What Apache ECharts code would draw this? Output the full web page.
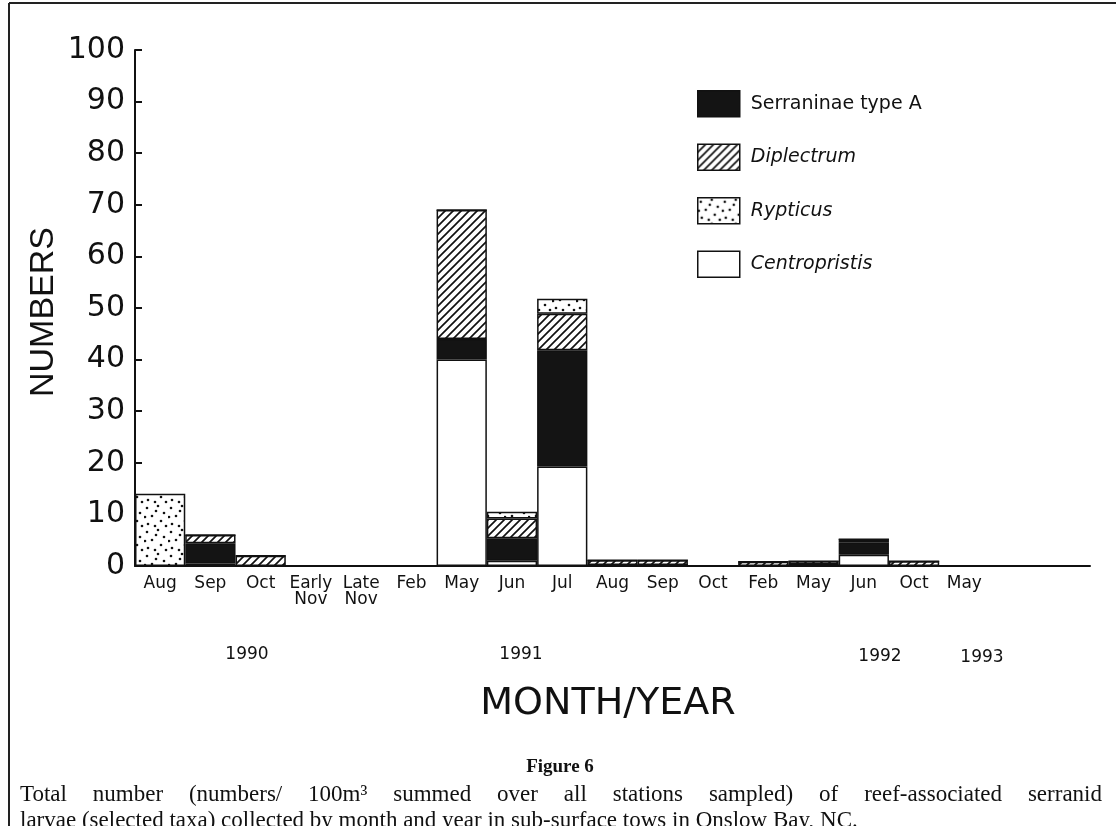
<!DOCTYPE html>
<html>
<head>
<meta charset="utf-8">
<script src="https://cdn.jsdelivr.net/npm/echarts@6/dist/echarts.min.js"></script>
<style>
  html, body { margin: 0; padding: 0; background: #fff; }
  #chart { width: 1120px; height: 826px; }
</style>
</head>
<body>
<div id="chart"></div>
<script>
// 月份类别（最后两个为空位）
var months = ['Aug', 'Sep', 'Oct', 'Early\nNov', 'Late\nNov', 'Feb', 'May', 'Jun', 'Jul',
              'Aug', 'Sep', 'Oct', 'Feb', 'May', 'Jun', 'Oct', 'May', '', ''];
var yearLabels = ['1990', '1991', '1992', '1993'];
var yTicks = [0, 10, 20, 30, 40, 50, 60, 70, 80, 90, 100];

// 各类群数值 (numbers / 100m3)
var centropristis = [0, 0.5, 0, 0, 0, 0, 40, 1, 19.3, 0.2, 0.2, 0, 0, 0.3, 2.2, 0, 0, 0, 0];
var serraninae    = [0, 3.9, 0, 0, 0, 0, 4, 4.4, 22.5, 0, 0, 0, 0, 0, 2.4, 0, 0, 0, 0];
var diplectrum    = [0, 1.6, 2, 0, 0, 0, 25, 3.8, 7.1, 0.9, 0.9, 0, 0.8, 0.6, 0.6, 0.9, 0, 0, 0];
var rypticus      = [14, 0, 0, 0, 0, 0, 0, 1.3, 2.9, 0, 0, 0, 0, 0, 0, 0, 0, 0, 0];

var captionLines = [
    'Total number (numbers/ 100m\u00b3 summed over all stations sampled) of reef-associated serranid',
    'larvae (selected taxa) collected by month and year in sub-surface tows in Onslow Bay, NC.'
];

// 斜线填充
function hatchPattern() {
    var s = 8;
    var c = document.createElement('canvas');
    c.width = s; c.height = s;
    var ctx = c.getContext('2d');
    ctx.fillStyle = '#fff';
    ctx.fillRect(0, 0, s, s);
    ctx.strokeStyle = '#111';
    ctx.lineWidth = 1.7;
    ctx.beginPath();
    ctx.moveTo(0, s); ctx.lineTo(s, 0);
    ctx.moveTo(-2, 2); ctx.lineTo(2, -2);
    ctx.moveTo(s - 2, s + 2); ctx.lineTo(s + 2, s - 2);
    ctx.stroke();
    return { image: c, repeat: 'repeat' };
}

// 点状填充
function dotPattern() {
    var s = 24;
    var c = document.createElement('canvas');
    c.width = s; c.height = s;
    var ctx = c.getContext('2d');
    ctx.fillStyle = '#fff';
    ctx.fillRect(0, 0, s, s);
    ctx.fillStyle = '#111';
    var pts = [[3, 4], [14, 2], [20, 9], [8, 12], [17, 17], [4, 20], [11, 22], [22, 22], [1, 13], [12, 7]];
    pts.forEach(function (p) {
        ctx.beginPath();
        ctx.arc(p[0], p[1], 1.3, 0, Math.PI * 2);
        ctx.fill();
    });
    return { image: c, repeat: 'repeat' };
}

// 两端对齐的图注（逐词排布）
var capFont = '23px Liberation Serif, serif';
function captionGraphics(x0, x1, ys) {
    var ctx = document.createElement('canvas').getContext('2d');
    ctx.font = capFont;
    var out = [];
    captionLines.forEach(function (line, li) {
        var words = line.split(' ');
        var widths = words.map(function (w) { return ctx.measureText(w).width; });
        var total = widths.reduce(function (a, b) { return a + b; }, 0);
        var gap = ctx.measureText(' ').width;
        if (li === 0) gap = (x1 - x0 - total) / (words.length - 1);
        var x = x0;
        words.forEach(function (w, i) {
            out.push({
                type: 'text', x: x, y: ys[li],
                style: { text: w, font: capFont, fill: '#111', textVerticalAlign: 'middle' }
            });
            x += widths[i] + gap;
        });
    });
    return out;
}

var chart = echarts.init(document.getElementById('chart'));

function makeSeries(name, data, color) {
    return {
        type: 'bar',
        name: name,
        stack: 'total',
        barCategoryGap: '0%',
        data: data,
        itemStyle: { color: color, borderColor: '#111', borderWidth: 1.5 }
    };
}

var font = 'DejaVu Sans, sans-serif';
var titleFont = 'Liberation Sans, Arial, sans-serif';

var option = {
    backgroundColor: '#fff',
    animation: false,
    grid: { left: 135, right: 30, top: 50, bottom: 260 },
    legend: {
        orient: 'vertical',
        left: 692,
        top: 85,
        icon: 'rect',
        itemWidth: 42,
        itemHeight: 26,
        itemGap: 26,
        itemStyle: { borderColor: '#111', borderWidth: 1.5 },
        textStyle: { fontFamily: font, fontSize: 19, color: '#111', padding: [0, 0, 0, 6] },
        data: [
            { name: 'Serraninae type A' },
            { name: 'Diplectrum', textStyle: { fontStyle: 'italic' } },
            { name: 'Rypticus', textStyle: { fontStyle: 'italic' } },
            { name: 'Centropristis', textStyle: { fontStyle: 'italic' } }
        ]
    },
    xAxis: {
        type: 'category',
        data: months,
        boundaryGap: true,
        axisLine: { lineStyle: { color: '#111', width: 2 } },
        axisTick: { show: false },
        axisLabel: {
            interval: 0,
            fontFamily: font,
            fontSize: 17,
            color: '#111',
            lineHeight: 16,
            margin: 10
        }
    },
    yAxis: {
        type: 'value',
        min: 0,
        max: 100,
        interval: 10,
        splitLine: { show: false },
        axisLine: { show: true, lineStyle: { color: '#111', width: 2 } },
        axisTick: { show: true, inside: true, length: 7, lineStyle: { color: '#111', width: 2 } },
        axisLabel: {
            fontFamily: font,
            fontSize: 30,
            color: '#111',
            margin: 10,
            formatter: function (v) { return yTicks.indexOf(v) >= 0 ? String(v) : ''; }
        }
    },
    series: [
        makeSeries('Centropristis', centropristis, '#fff'),
        makeSeries('Serraninae type A', serraninae, '#141414'),
        makeSeries('Diplectrum', diplectrum, hatchPattern()),
        makeSeries('Rypticus', rypticus, dotPattern())
    ],
    graphic: [
        // 外框
        { type: 'line', shape: { x1: 9, y1: 3, x2: 1116, y2: 3 }, style: { stroke: '#222', lineWidth: 2 } },
        { type: 'line', shape: { x1: 9, y1: 3, x2: 9, y2: 826 }, style: { stroke: '#222', lineWidth: 2 } },
        // 纵轴标题
        {
            type: 'text', x: 44, y: 312, rotation: Math.PI / 2,
            style: { text: 'NUMBERS', font: '34px ' + titleFont, fill: '#111', textAlign: 'center', textVerticalAlign: 'middle' }
        },
        // 年份
        { type: 'text', x: 247, y: 655, style: { text: yearLabels[0], font: '17px ' + font, fill: '#111', textAlign: 'center', textVerticalAlign: 'middle' } },
        { type: 'text', x: 521, y: 655, style: { text: yearLabels[1], font: '17px ' + font, fill: '#111', textAlign: 'center', textVerticalAlign: 'middle' } },
        { type: 'text', x: 880, y: 657, style: { text: yearLabels[2], font: '17px ' + font, fill: '#111', textAlign: 'center', textVerticalAlign: 'middle' } },
        { type: 'text', x: 982, y: 658, style: { text: yearLabels[3], font: '17px ' + font, fill: '#111', textAlign: 'center', textVerticalAlign: 'middle' } },
        // 横轴标题
        {
            type: 'text', x: 608, y: 704,
            style: { text: 'MONTH/YEAR', font: '38px ' + font, fill: '#111', textAlign: 'center', textVerticalAlign: 'middle' }
        },
        // 图注
        {
            type: 'text', x: 560, y: 767,
            style: { text: 'Figure 6', font: 'bold 19px Liberation Serif, serif', fill: '#111', textAlign: 'center', textVerticalAlign: 'middle' }
        }
    ].concat(captionGraphics(20, 1102, [795, 821]))
};

chart.setOption(option);
</script>
</body>
</html>
